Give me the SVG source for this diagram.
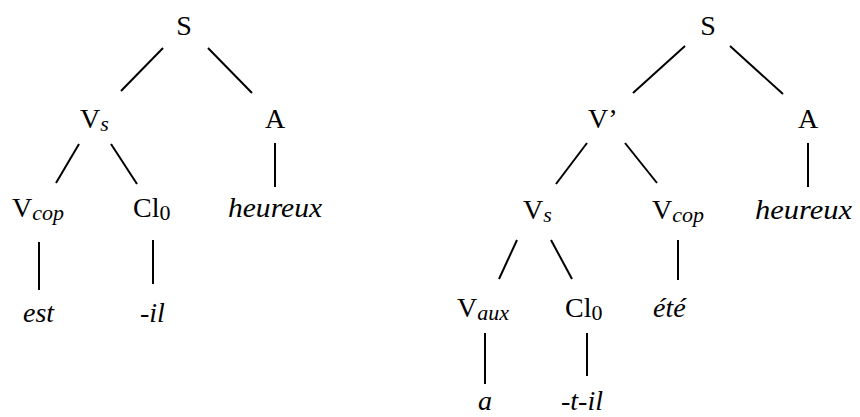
<svg xmlns="http://www.w3.org/2000/svg" width="860" height="417" viewBox="0 0 860 417">
<style>
text{font-family:"Liberation Serif","Times New Roman",serif;font-size:28px;fill:#000}
.c{text-anchor:middle}
.i{font-style:italic}
.sub{font-size:22px}
.edge line{stroke:#000;stroke-width:2;stroke-linecap:butt}
</style>
<rect width="860" height="417" fill="#fff"/>
<g class="edge" id="connectors">
<line x1="163" y1="48" x2="121" y2="91"/>
<line x1="208" y1="48" x2="252" y2="93"/>
<line x1="79" y1="144" x2="56" y2="183"/>
<line x1="111" y1="144" x2="137" y2="184"/>
<line x1="275" y1="143" x2="275" y2="187"/>
<line x1="39" y1="242" x2="39" y2="290"/>
<line x1="153" y1="240" x2="153" y2="284"/>
<line x1="685" y1="46" x2="633" y2="93"/>
<line x1="730" y1="46" x2="783" y2="94"/>
<line x1="587" y1="143" x2="556" y2="184"/>
<line x1="625" y1="143" x2="657" y2="183"/>
<line x1="808" y1="143" x2="808" y2="187"/>
<line x1="517" y1="240" x2="499" y2="279"/>
<line x1="551" y1="240" x2="572" y2="279"/>
<line x1="678" y1="240" x2="678" y2="280"/>
<line x1="485" y1="333" x2="485" y2="384"/>
<line x1="587" y1="333" x2="587" y2="376"/>
</g>
<g id="L-S"><text class="c" x="184" y="35">S</text></g>
<g id="L-Vs"><text x="80" y="128">V<tspan class="i sub" dy="3">s</tspan></text></g>
<g id="L-A"><text class="c" x="275" y="128">A</text></g>
<g id="L-Vcop"><text x="12" y="217">V<tspan class="i sub" dy="3">cop</tspan></text></g>
<g id="L-Cl0"><text x="133" y="217">Cl<tspan class="sub" dy="3">0</tspan></text></g>
<g id="L-heureux"><text class="i" x="228" y="217" textLength="94" lengthAdjust="spacingAndGlyphs">heureux</text></g>
<g id="L-est"><text class="i" x="23" y="322">est</text></g>
<g id="L-il"><text class="i" x="140" y="322">-il</text></g>
<g id="R-S"><text class="c" x="708" y="35">S</text></g>
<g id="R-Vp"><text x="588" y="128">V’</text></g>
<g id="R-A"><text class="c" x="808" y="128">A</text></g>
<g id="R-Vs"><text x="523" y="219">V<tspan class="i sub" dy="3">s</tspan></text></g>
<g id="R-Vcop"><text x="652" y="219">V<tspan class="i sub" dy="3">cop</tspan></text></g>
<g id="R-heureux"><text class="i" x="755" y="219" textLength="97" lengthAdjust="spacingAndGlyphs">heureux</text></g>
<g id="R-Vaux"><text x="457" y="317">V<tspan class="i sub" dy="3">aux</tspan></text></g>
<g id="R-Cl0"><text x="565" y="317">Cl<tspan class="sub" dy="3">0</tspan></text></g>
<g id="R-ete"><text class="i" x="653" y="317">été</text></g>
<g id="R-a"><text class="i" x="478" y="410">a</text></g>
<g id="R-til"><text class="i" x="561" y="410">-t-il</text></g>
</svg>
